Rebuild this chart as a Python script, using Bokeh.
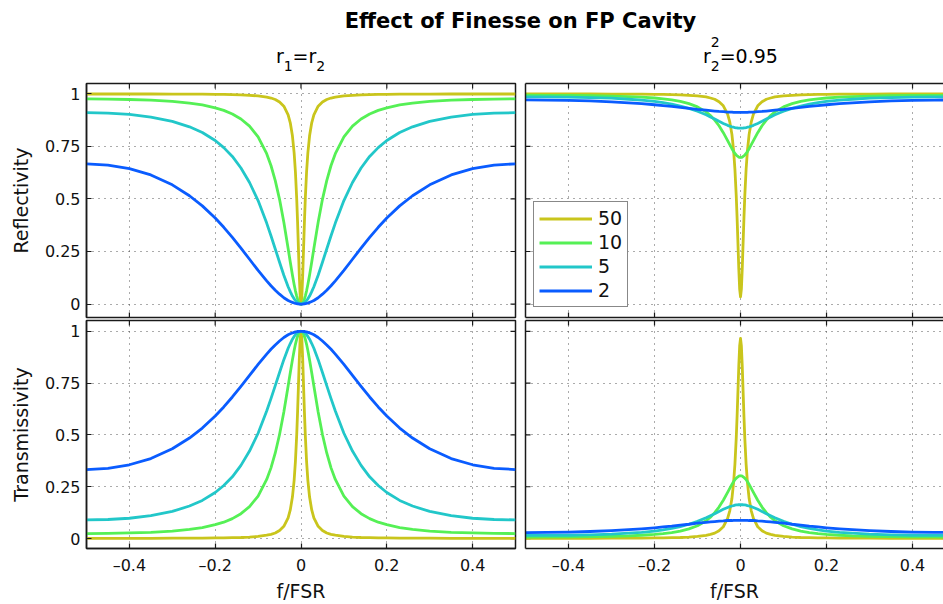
import math
from bokeh.plotting import figure
from bokeh.models import Range1d, FixedTicker, LinearAxis, Label, Grid
from bokeh.layouts import column, row
from bokeh.embed import file_html
from bokeh.resources import INLINE

FONT = "DejaVu Sans"

# ---------------- data ----------------
title_text = "Effect of Finesse on FP Cavity"
finesse_labels = ["50", "10", "5", "2"]
line_colors = ["#c9c51c", "#55f055", "#22c7c9", "#0a5cff"]

x_ticks = [-0.4, -0.2, 0, 0.2, 0.4]
x_tick_labels = ["\u20130.4", "\u20130.2", "0", "0.2", "0.4"]
y_ticks = [0, 0.25, 0.5, 0.75, 1]
y_tick_labels = ["0", "0.25", "0.5", "0.75", "1"]

f_fsr = [-0.5, -0.45, -0.4, -0.35, -0.3, -0.26, -0.23, -0.2, -0.18, -0.16, -0.14, -0.12, -0.1, -0.08,
         -0.07, -0.06, -0.05, -0.04, -0.03, -0.025, -0.02, -0.016, -0.013, -0.01, -0.008, -0.006, -0.004,
         -0.002, 0.0, 0.002, 0.004, 0.006, 0.008, 0.01, 0.013, 0.016, 0.02, 0.025, 0.03, 0.04, 0.05, 0.06,
         0.07, 0.08, 0.1, 0.12, 0.14, 0.16, 0.18, 0.2, 0.23, 0.26, 0.3, 0.35, 0.4, 0.45, 0.5]

# r1 = r2 : reflectivity
refl_matched_50 = [0.999, 0.999, 0.999, 0.999, 0.998, 0.998, 0.998, 0.997, 0.997, 0.996, 0.995, 0.993, 0.990, 0.984, 0.980, 0.973, 0.961, 0.941, 0.900, 0.862, 0.800, 0.719, 0.628, 0.500, 0.390, 0.265, 0.138, 0.038, 0.000,
                   0.038, 0.138, 0.265, 0.390, 0.500, 0.628, 0.719, 0.800, 0.862, 0.900, 0.941, 0.961, 0.973, 0.980, 0.984, 0.990, 0.993, 0.995, 0.996, 0.997, 0.997, 0.998, 0.998, 0.998, 0.999, 0.999, 0.999, 0.999]
refl_matched_10 = [0.976, 0.975, 0.973, 0.970, 0.964, 0.956, 0.947, 0.933, 0.921, 0.904, 0.880, 0.846, 0.795, 0.715, 0.659, 0.587, 0.498, 0.389, 0.264, 0.200, 0.138, 0.093, 0.063, 0.038, 0.025, 0.014, 0.006, 0.002, 0.000,
                   0.002, 0.006, 0.014, 0.025, 0.038, 0.063, 0.093, 0.138, 0.200, 0.264, 0.389, 0.498, 0.587, 0.659, 0.715, 0.795, 0.846, 0.880, 0.904, 0.921, 0.933, 0.947, 0.956, 0.964, 0.970, 0.973, 0.975, 0.976]
refl_matched_5 = [0.910, 0.908, 0.902, 0.889, 0.869, 0.843, 0.816, 0.778, 0.744, 0.702, 0.647, 0.578, 0.492, 0.385, 0.325, 0.262, 0.199, 0.137, 0.082, 0.059, 0.038, 0.025, 0.017, 0.010, 0.006, 0.004, 0.002, 0.000, 0.000,
                  0.000, 0.002, 0.004, 0.006, 0.010, 0.017, 0.025, 0.038, 0.059, 0.082, 0.137, 0.199, 0.262, 0.325, 0.385, 0.492, 0.578, 0.647, 0.702, 0.744, 0.778, 0.816, 0.843, 0.869, 0.889, 0.902, 0.908, 0.910]
refl_matched_2 = [0.667, 0.661, 0.644, 0.614, 0.567, 0.515, 0.467, 0.409, 0.365, 0.317, 0.266, 0.213, 0.160, 0.110, 0.087, 0.066, 0.047, 0.030, 0.017, 0.012, 0.008, 0.005, 0.003, 0.002, 0.001, 0.001, 0.000, 0.000, 0.000,
                  0.000, 0.000, 0.001, 0.001, 0.002, 0.003, 0.005, 0.008, 0.012, 0.017, 0.030, 0.047, 0.066, 0.087, 0.110, 0.160, 0.213, 0.266, 0.317, 0.365, 0.409, 0.467, 0.515, 0.567, 0.614, 0.644, 0.661, 0.667]

# r1 = r2 : transmissivity
trans_matched_50 = [0.001, 0.001, 0.001, 0.001, 0.002, 0.002, 0.002, 0.003, 0.003, 0.004, 0.005, 0.007, 0.010, 0.016, 0.020, 0.027, 0.039, 0.059, 0.100, 0.138, 0.200, 0.281, 0.372, 0.500, 0.610, 0.735, 0.862, 0.962, 1.000,
                    0.962, 0.862, 0.735, 0.610, 0.500, 0.372, 0.281, 0.200, 0.138, 0.100, 0.059, 0.039, 0.027, 0.020, 0.016, 0.010, 0.007, 0.005, 0.004, 0.003, 0.003, 0.002, 0.002, 0.002, 0.001, 0.001, 0.001, 0.001]
trans_matched_10 = [0.024, 0.025, 0.027, 0.030, 0.036, 0.044, 0.053, 0.067, 0.079, 0.096, 0.120, 0.154, 0.205, 0.285, 0.341, 0.413, 0.502, 0.611, 0.736, 0.800, 0.862, 0.907, 0.937, 0.962, 0.975, 0.986, 0.994, 0.998, 1.000,
                    0.998, 0.994, 0.986, 0.975, 0.962, 0.937, 0.907, 0.862, 0.800, 0.736, 0.611, 0.502, 0.413, 0.341, 0.285, 0.205, 0.154, 0.120, 0.096, 0.079, 0.067, 0.053, 0.044, 0.036, 0.030, 0.027, 0.025, 0.024]
trans_matched_5 = [0.090, 0.092, 0.098, 0.111, 0.131, 0.157, 0.184, 0.222, 0.256, 0.298, 0.353, 0.422, 0.508, 0.615, 0.675, 0.738, 0.801, 0.863, 0.918, 0.941, 0.962, 0.975, 0.983, 0.990, 0.994, 0.996, 0.998, 1.000, 1.000,
                   1.000, 0.998, 0.996, 0.994, 0.990, 0.983, 0.975, 0.962, 0.941, 0.918, 0.863, 0.801, 0.738, 0.675, 0.615, 0.508, 0.422, 0.353, 0.298, 0.256, 0.222, 0.184, 0.157, 0.131, 0.111, 0.098, 0.092, 0.090]
trans_matched_2 = [0.333, 0.339, 0.356, 0.386, 0.433, 0.485, 0.533, 0.591, 0.635, 0.683, 0.734, 0.787, 0.840, 0.890, 0.913, 0.934, 0.953, 0.970, 0.983, 0.988, 0.992, 0.995, 0.997, 0.998, 0.999, 0.999, 1.000, 1.000, 1.000,
                   1.000, 1.000, 0.999, 0.999, 0.998, 0.997, 0.995, 0.992, 0.988, 0.983, 0.970, 0.953, 0.934, 0.913, 0.890, 0.840, 0.787, 0.734, 0.683, 0.635, 0.591, 0.533, 0.485, 0.433, 0.386, 0.356, 0.339, 0.333]

# r2^2 = 0.95 : reflectivity
refl_r2_50 = [0.999, 0.999, 0.999, 0.999, 0.998, 0.998, 0.998, 0.997, 0.997, 0.996, 0.995, 0.993, 0.990, 0.985, 0.980, 0.974, 0.962, 0.943, 0.903, 0.866, 0.807, 0.728, 0.641, 0.517, 0.411, 0.290, 0.167, 0.071, 0.034,
              0.071, 0.167, 0.290, 0.411, 0.517, 0.641, 0.728, 0.807, 0.866, 0.903, 0.943, 0.962, 0.974, 0.980, 0.985, 0.990, 0.993, 0.995, 0.996, 0.997, 0.997, 0.998, 0.998, 0.998, 0.999, 0.999, 0.999, 0.999]
refl_r2_10 = [0.993, 0.992, 0.992, 0.991, 0.989, 0.987, 0.984, 0.980, 0.976, 0.971, 0.964, 0.953, 0.938, 0.914, 0.897, 0.875, 0.848, 0.815, 0.777, 0.758, 0.739, 0.725, 0.716, 0.709, 0.705, 0.702, 0.699, 0.698, 0.697,
              0.698, 0.699, 0.702, 0.705, 0.709, 0.716, 0.725, 0.739, 0.758, 0.777, 0.815, 0.848, 0.875, 0.897, 0.914, 0.938, 0.953, 0.964, 0.971, 0.976, 0.980, 0.984, 0.987, 0.989, 0.991, 0.992, 0.992, 0.993]
refl_r2_5 = [0.985, 0.985, 0.984, 0.982, 0.979, 0.974, 0.970, 0.964, 0.958, 0.951, 0.942, 0.931, 0.917, 0.900, 0.890, 0.880, 0.869, 0.859, 0.850, 0.846, 0.843, 0.841, 0.839, 0.838, 0.838, 0.837, 0.837, 0.837, 0.837,
             0.837, 0.837, 0.837, 0.838, 0.838, 0.839, 0.841, 0.843, 0.846, 0.850, 0.859, 0.869, 0.880, 0.890, 0.900, 0.917, 0.931, 0.942, 0.951, 0.958, 0.964, 0.970, 0.974, 0.979, 0.982, 0.984, 0.985, 0.985]
refl_r2_2 = [0.971, 0.970, 0.969, 0.966, 0.962, 0.957, 0.953, 0.948, 0.944, 0.940, 0.935, 0.931, 0.926, 0.922, 0.920, 0.918, 0.916, 0.915, 0.913, 0.913, 0.913, 0.912, 0.912, 0.912, 0.912, 0.912, 0.912, 0.912, 0.912,
             0.912, 0.912, 0.912, 0.912, 0.912, 0.912, 0.912, 0.913, 0.913, 0.913, 0.915, 0.916, 0.918, 0.920, 0.922, 0.926, 0.931, 0.935, 0.940, 0.944, 0.948, 0.953, 0.957, 0.962, 0.966, 0.969, 0.970, 0.971]

# r2^2 = 0.95 : transmissivity
trans_r2_50 = [0.001, 0.001, 0.001, 0.001, 0.002, 0.002, 0.002, 0.003, 0.003, 0.004, 0.005, 0.007, 0.010, 0.015, 0.020, 0.026, 0.038, 0.057, 0.097, 0.134, 0.193, 0.272, 0.359, 0.483, 0.589, 0.710, 0.833, 0.929, 0.966,
               0.929, 0.833, 0.710, 0.589, 0.483, 0.359, 0.272, 0.193, 0.134, 0.097, 0.057, 0.038, 0.026, 0.020, 0.015, 0.010, 0.007, 0.005, 0.004, 0.003, 0.003, 0.002, 0.002, 0.002, 0.001, 0.001, 0.001, 0.001]
trans_r2_10 = [0.007, 0.008, 0.008, 0.009, 0.011, 0.013, 0.016, 0.020, 0.024, 0.029, 0.036, 0.047, 0.062, 0.086, 0.103, 0.125, 0.152, 0.185, 0.223, 0.242, 0.261, 0.275, 0.284, 0.291, 0.295, 0.298, 0.301, 0.302, 0.303,
               0.302, 0.301, 0.298, 0.295, 0.291, 0.284, 0.275, 0.261, 0.242, 0.223, 0.185, 0.152, 0.125, 0.103, 0.086, 0.062, 0.047, 0.036, 0.029, 0.024, 0.020, 0.016, 0.013, 0.011, 0.009, 0.008, 0.008, 0.007]
trans_r2_5 = [0.015, 0.015, 0.016, 0.018, 0.021, 0.026, 0.030, 0.036, 0.042, 0.049, 0.058, 0.069, 0.083, 0.100, 0.110, 0.120, 0.131, 0.141, 0.150, 0.154, 0.157, 0.159, 0.161, 0.162, 0.162, 0.163, 0.163, 0.163, 0.163,
              0.163, 0.163, 0.163, 0.162, 0.162, 0.161, 0.159, 0.157, 0.154, 0.150, 0.141, 0.131, 0.120, 0.110, 0.100, 0.083, 0.069, 0.058, 0.049, 0.042, 0.036, 0.030, 0.026, 0.021, 0.018, 0.016, 0.015, 0.015]
trans_r2_2 = [0.029, 0.030, 0.031, 0.034, 0.038, 0.043, 0.047, 0.052, 0.056, 0.060, 0.065, 0.069, 0.074, 0.078, 0.080, 0.082, 0.084, 0.085, 0.087, 0.087, 0.087, 0.088, 0.088, 0.088, 0.088, 0.088, 0.088, 0.088, 0.088,
              0.088, 0.088, 0.088, 0.088, 0.088, 0.088, 0.088, 0.087, 0.087, 0.087, 0.085, 0.084, 0.082, 0.080, 0.078, 0.074, 0.069, 0.065, 0.060, 0.056, 0.052, 0.047, 0.043, 0.038, 0.034, 0.031, 0.030, 0.029]

panels_data = {
    "tl": [refl_matched_50, refl_matched_10, refl_matched_5, refl_matched_2],
    "tr": [refl_r2_50, refl_r2_10, refl_r2_5, refl_r2_2],
    "bl": [trans_matched_50, trans_matched_10, trans_matched_5, trans_matched_2],
    "br": [trans_r2_50, trans_r2_10, trans_r2_5, trans_r2_2],
}
for key, series in panels_data.items():
    for s in series:
        assert len(s) == len(f_fsr), (key, len(s))

# ---------------- styling helpers ----------------
AX_COLOR = "#1a1a1a"
X_START = -0.5


def style_axis(ax, ticks, labels, axis_label=None):
    ax.ticker = FixedTicker(ticks=ticks)
    ax.major_label_overrides = {t: l for t, l in zip(ticks, labels)}
    ax.major_tick_in = 5
    ax.major_tick_out = 0
    ax.minor_tick_in = 0
    ax.minor_tick_out = 0
    ax.axis_line_color = AX_COLOR
    ax.axis_line_width = 1.5
    ax.major_tick_line_color = AX_COLOR
    ax.major_tick_line_width = 1.2
    ax.major_label_text_font = FONT
    ax.major_label_text_font_size = "16px"
    ax.major_label_text_color = "#111111"
    if axis_label:
        ax.axis_label = axis_label
        ax.axis_label_text_font = FONT
        ax.axis_label_text_font_size = "19px"
        ax.axis_label_text_font_style = "normal"
        ax.axis_label_text_color = "#111111"


def border_axis(p, side):
    # a plain border line (axis without ticks, hence without labels)
    ax = LinearAxis(ticker=FixedTicker(ticks=[]))
    ax.major_tick_in = 0
    ax.major_tick_out = 0
    ax.minor_tick_in = 0
    ax.minor_tick_out = 0
    ax.major_label_standoff = 0
    ax.axis_line_color = AX_COLOR
    ax.axis_line_width = 1.5
    p.add_layout(ax, side)


def edge_ticks(p, side, xr, yr):
    # inward tick marks on an unlabeled side: a dash marker centred on the frame edge,
    # the outer half of which is clipped away by the frame
    if side in ("top", "bottom"):
        yv = yr[1] if side == "top" else yr[0]
        p.scatter(x=x_ticks, y=[yv] * len(x_ticks), marker="dash", angle=math.pi / 2, size=10,
                  line_color=AX_COLOR, line_width=1.2)
    else:
        xv = xr[0] if side == "left" else xr[1]
        p.scatter(x=[xv] * len(y_ticks), y=y_ticks, marker="dash", size=10,
                  line_color=AX_COLOR, line_width=1.2)


def make_panel(x_end, yr, width, height, mb, left_col, bottom_row, ylabel=None, xlabel=None):
    xr = (X_START, x_end)
    p = figure(width=width, height=height,
               x_range=Range1d(*xr), y_range=Range1d(*yr),
               toolbar_location=None, output_backend="svg",
               x_axis_type=None, y_axis_type=None,
               min_border_left=mb[0], min_border_right=mb[1],
               min_border_top=mb[2], min_border_bottom=mb[3])
    p.background_fill_color = "white"
    p.border_fill_color = "white"

    for dim, ticks in ((0, x_ticks), (1, y_ticks)):
        g = Grid(dimension=dim, ticker=FixedTicker(ticks=ticks))
        g.grid_line_color = "#3a3a3a"
        g.grid_line_alpha = 0.85
        g.grid_line_width = 1
        g.grid_line_dash = "1 5"
        p.add_layout(g)

    if left_col:
        # full box, labelled left axis
        p.outline_line_color = AX_COLOR
        p.outline_line_width = 1.5
        left = LinearAxis()
        style_axis(left, y_ticks, y_tick_labels, ylabel)
        left.major_label_standoff = 6
        left.axis_label_standoff = 10
        p.add_layout(left, "left")
        edge_ticks(p, "right", xr, yr)
    else:
        # right column is cut by the window: no right border
        p.outline_line_color = None
        border_axis(p, "left")
        border_axis(p, "above")
        if not bottom_row:
            border_axis(p, "below")
        edge_ticks(p, "left", xr, yr)

    if bottom_row:
        below = LinearAxis()
        style_axis(below, x_ticks, x_tick_labels, xlabel)
        below.major_label_standoff = 7
        below.axis_label_standoff = 2
        p.add_layout(below, "below")
    else:
        edge_ticks(p, "bottom", xr, yr)
    edge_ticks(p, "top", xr, yr)
    return p


def add_curves(p, series, with_legend=False):
    for lab, col, ys in zip(finesse_labels, line_colors, series):
        kw = dict(legend_label=lab) if with_legend else {}
        p.line(f_fsr, ys, line_color=col, line_width=2.8, line_join="round", **kw)


RIGHT_X_END = 0.472
TOP_Y = (-0.064, 1.049)
BOT_Y = (-0.048, 1.052)

tl = make_panel(0.5, TOP_Y, 520, 241, (86, 5, 5, 2), True, False, ylabel="Reflectivity")
tr = make_panel(RIGHT_X_END, TOP_Y, 423, 241, (5, 0, 5, 2), False, False)
bl = make_panel(0.5, BOT_Y, 520, 285, (86, 5, 1, 53), True, True, ylabel="Transmissivity", xlabel="f/FSR")
br = make_panel(RIGHT_X_END, BOT_Y, 423, 285, (5, 0, 1, 53), False, True, xlabel="f/FSR")

add_curves(tl, panels_data["tl"])
add_curves(tr, panels_data["tr"], with_legend=True)
add_curves(bl, panels_data["bl"])
add_curves(br, panels_data["br"])

leg = tr.legend[0]
leg.location = (8, 10)
leg.border_line_color = "#111111"
leg.border_line_width = 1.2
leg.background_fill_color = "white"
leg.background_fill_alpha = 1.0
leg.label_text_font = FONT
leg.label_text_font_size = "19px"
leg.label_text_color = "#111111"
leg.glyph_width = 53
leg.glyph_height = 19
leg.label_height = 19
leg.spacing = 2
leg.padding = 5
leg.margin = 0
leg.label_standoff = 6

# ---------------- header with titles ----------------
hdr = figure(width=943, height=78, x_range=Range1d(0, 943), y_range=Range1d(0, 78),
             toolbar_location=None, output_backend="svg", x_axis_type=None, y_axis_type=None,
             min_border=0, min_border_left=0, min_border_right=0, min_border_top=0, min_border_bottom=0)
hdr.outline_line_color = None


def hlabel(x, y, text, size, bold=False, align="left"):
    hdr.add_layout(Label(x=x, y=y, text=text, text_font=FONT, text_font_size=size,
                         text_font_style="bold" if bold else "normal", text_color="#000000",
                         text_align=align, text_baseline="alphabetic"))


hlabel(520, 57.5, title_text, "21px", bold=True, align="center")
# r1=r2
hlabel(275.4, 23, "r", "19px")
hlabel(283.2, 13, "1", "14px")
hlabel(292.1, 23, "=r", "19px")
hlabel(315.8, 13, "2", "14px")
# r2^2=0.95
hlabel(702.5, 23, "r", "19px")
hlabel(710.3, 37, "2", "14px")
hlabel(710.3, 13, "2", "14px")
hlabel(719.2, 23, "=0.95", "19px")

layout = column(hdr, row(tl, tr), row(bl, br))
open("out.html", "w").write(file_html(layout, INLINE))
